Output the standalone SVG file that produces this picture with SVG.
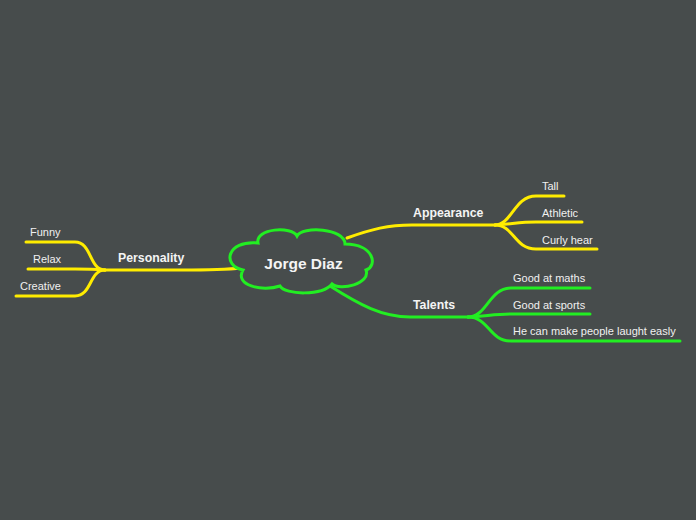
<svg xmlns="http://www.w3.org/2000/svg" width="696" height="520" viewBox="0 0 696 520">
<style>
.y{fill:none;stroke:#ffec00;stroke-width:3;stroke-linecap:round}
.g{fill:none;stroke:#22ee22;stroke-width:3;stroke-linecap:round}
.b{font-family:"Liberation Sans",Arial,sans-serif;font-weight:bold;font-size:12.3px;fill:#f4f4f4}
.s{font-family:"Liberation Sans",Arial,sans-serif;font-size:11px;fill:#f0f0f0}
</style>
<rect width="696" height="520" fill="#474c4c"/>
<g id="connectors">
<path class="y" d="M347,238 C372,229 388,225 412,225 L495,225"/>
<path class="y" d="M495,225 C512,225 514,196 536,196 L564,196"/>
<path class="y" d="M495,225 C512,224 520,222 536,222 L582,222"/>
<path class="y" d="M495,225 C514,225 514,249 536,249 L597,249"/>
<path class="g" d="M330,286 C360,305 382,317 410,317 L468,317"/>
<path class="g" d="M468,317 C487,317 489,288 511,288 L590,288"/>
<path class="g" d="M468,317 C487,316 495,314 511,314 L590,314"/>
<path class="g" d="M468,317 C489,317 489,341 511,341 L680,341"/>
<path class="y" d="M242,268 C222,270 205,270 182,270 L105,270"/>
<path class="y" d="M105,270 C89,270 92,242 75,242 L26,242"/>
<path class="y" d="M105,270 C92,269 85,269 75,269 L28,269"/>
<path class="y" d="M105,270 C89,270 92,296 75,296 L16,296"/>
</g>
<g id="center">
<path d="M258,243 C255,228 292,226 297,236 C302,226 345,228 345,244 C374,244 378,266 366,270 C371,284 340,291 332,284 C322,296 285,295 280,286 C262,292 234,285 243,270 C222,266 226,240 258,243 Z" fill="#474c4c" stroke="#22ee22" stroke-width="3"/>
<text x="303.5" y="269" text-anchor="middle" style="font-family:'Liberation Sans',Arial,sans-serif;font-weight:bold;font-size:15.5px;fill:#f4f4f4">Jorge Diaz</text>
</g>
<g id="appearance"><text class="b" x="413" y="217">Appearance</text></g>
<g id="tall"><text class="s" x="542" y="190">Tall</text></g>
<g id="athletic"><text class="s" x="542" y="217">Athletic</text></g>
<g id="curly"><text class="s" x="542" y="244">Curly hear</text></g>
<g id="talents"><text class="b" x="413" y="309">Talents</text></g>
<g id="maths"><text class="s" x="513" y="282">Good at maths</text></g>
<g id="sports"><text class="s" x="513" y="309">Good at sports</text></g>
<g id="laugh"><text class="s" x="513" y="335">He can make people laught easly</text></g>
<g id="personality"><text class="b" x="118" y="262">Personality</text></g>
<g id="funny"><text class="s" x="30" y="236">Funny</text></g>
<g id="relax"><text class="s" x="33" y="263">Relax</text></g>
<g id="creative"><text class="s" x="20" y="290">Creative</text></g>
</svg>
